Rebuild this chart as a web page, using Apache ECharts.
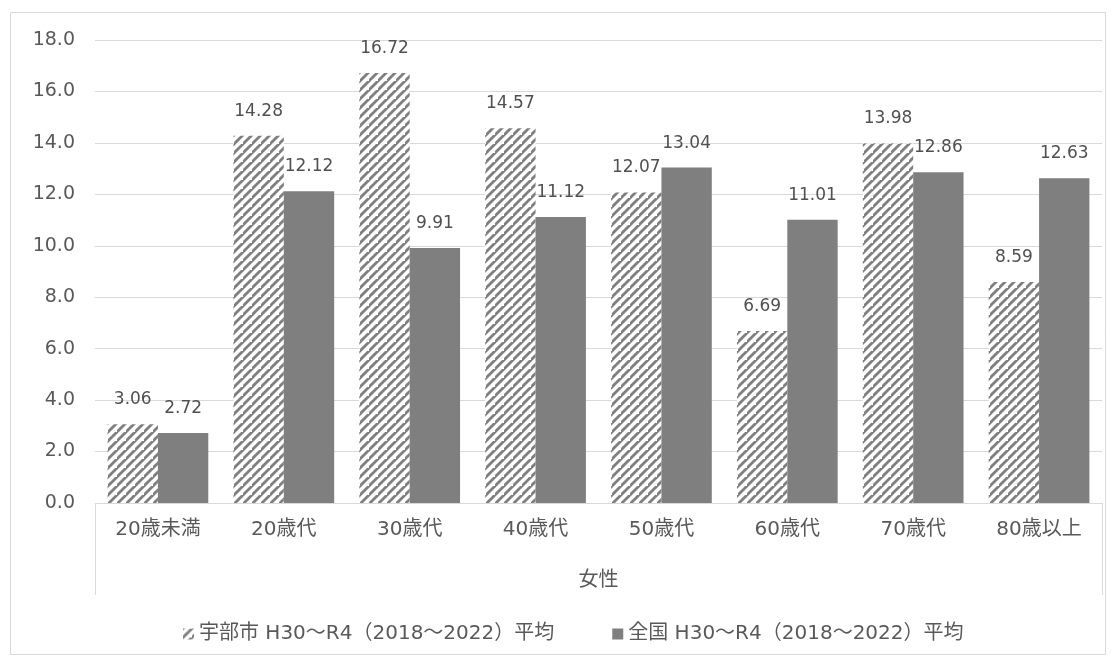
<!DOCTYPE html>
<html><head><meta charset="utf-8">
<script src="https://cdn.jsdelivr.net/npm/echarts@6/dist/echarts.min.js"></script>
<style>html,body{margin:0;padding:0;background:#fff}#c{width:1116px;height:659px}</style>
</head><body><div id="c"></div>
<script>
const categories = ['20歳未満','20歳代','30歳代','40歳代','50歳代','60歳代','70歳代','80歳以上'];
const groupLabel = ['女性'];
const seriesNames = ['宇部市 H30～R4（2018～2022）平均','全国 H30～R4（2018～2022）平均'];
const ubeValues = [3.06, 14.28, 16.72, 14.57, 12.07, 6.69, 13.98, 8.59];
const nationalValues = [2.72, 12.12, 9.91, 11.12, 13.04, 11.01, 12.86, 12.63];

const FONT = '"DejaVu Sans", "Noto Sans CJK JP", sans-serif';
const TXT = '#595959';

function hatch() {
  const s = 9;
  const cv = document.createElement('canvas');
  cv.width = s; cv.height = s;
  const g = cv.getContext('2d');
  g.fillStyle = '#fff'; g.fillRect(0,0,s,s);
  g.strokeStyle = '#7f7f7f'; g.lineWidth = 2.8;
  g.beginPath();
  g.moveTo(-1, s+1); g.lineTo(s+1, -1);
  g.moveTo(-1-s, s+1); g.lineTo(1, -1);
  g.moveTo(s-1, 2*s+1); g.lineTo(2*s+1, s-1);
  g.stroke();
  return {image: cv, repeat: 'repeat'};
}

const chart = echarts.init(document.getElementById('c'), null, {renderer: 'canvas'});
const labelStyle = {show: true, position: 'top', distance: 16, color: '#505050', fontSize: 17, fontFamily: FONT,
  formatter: p => p.value.toFixed(2)};
chart.setOption({
  animation: false,
  textStyle: {fontFamily: FONT},
  graphic: [{type: 'rect', shape: {x: 10.5, y: 12.5, width: 1095, height: 642}, style: {fill: 'none', stroke: '#d9d9d9', lineWidth: 1}, silent: true}],
  grid: {left: 95, right: 14, top: 40, bottom: 156},
  legend: {top: 619, left: 178, itemGap: 58, itemWidth: 11, itemHeight: 11, icon: 'rect',
    textStyle: {color: TXT, fontSize: 20, fontFamily: FONT}, data: seriesNames},
  xAxis: [
    {type: 'category', data: categories, position: 'bottom',
      axisLine: {lineStyle: {color: '#d9d9d9'}}, axisTick: {show: false},
      axisLabel: {color: TXT, fontSize: 20, margin: 17, fontFamily: FONT}},
    {type: 'category', data: groupLabel, position: 'bottom',
      axisLine: {show: false}, axisTick: {show: true, length: 92, lineStyle: {color: '#d9d9d9'}},
      axisLabel: {color: TXT, fontSize: 20, margin: 68, fontFamily: FONT}}
  ],
  yAxis: {type: 'value', min: 0, max: 18, interval: 2,
    axisLine: {show: false}, axisTick: {show: false},
    splitLine: {lineStyle: {color: '#d9d9d9'}},
    axisLabel: {color: TXT, fontSize: 19, margin: 20, fontFamily: FONT, formatter: v => v.toFixed(1)}},
  series: [
    {name: seriesNames[0], type: 'bar', data: ubeValues, barGap: '0%', barCategoryGap: '20%',
      itemStyle: {color: hatch()}, label: labelStyle},
    {name: seriesNames[1], type: 'bar', data: nationalValues, barGap: '0%', barCategoryGap: '20%',
      itemStyle: {color: '#7f7f7f'}, label: labelStyle}
  ]
});
</script></body></html>
